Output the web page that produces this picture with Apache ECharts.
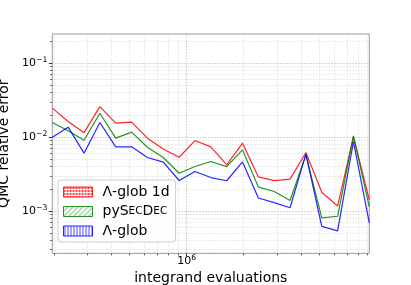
<!DOCTYPE html>
<html><head><meta charset="utf-8">
<script src="https://cdn.jsdelivr.net/npm/echarts@6/dist/echarts.min.js"></script>
<style>html,body{margin:0;padding:0;background:#fff}#c{width:411px;height:285px}</style>
</head><body><div id="c"></div>
<script>
// ---- data ----
const evaluations = [195400, 236900, 287300, 348300, 422300, 512100, 620700, 752300, 912500, 1106000,
  1341000, 1626000, 1971000, 2389000, 2897000, 3512000, 4257000, 5163000, 6258000, 7586000, 9196000];
const lambdaGlob1d = [0.0247, 0.0163, 0.0115, 0.0259, 0.0155, 0.0160, 0.0097, 0.0069, 0.00535, 0.0090,
  0.0074, 0.00422, 0.0083, 0.00290, 0.00258, 0.0027, 0.0062, 0.0018, 0.00117, 0.0102, 0.00142];
const pySecDec = [0.0158, 0.0122, 0.0091, 0.0211, 0.0097, 0.0117, 0.0073, 0.0053, 0.00325, 0.00401,
  0.00468, 0.0040, 0.00673, 0.00211, 0.00184, 0.00139, 0.00576, 0.00081, 0.00085, 0.0104, 0.00114];
const lambdaGlob = [0.0100, 0.01366, 0.00607, 0.0158, 0.0074, 0.0074, 0.0053, 0.00459, 0.00259, 0.00343,
  0.00284, 0.00257, 0.00462, 0.00150, 0.00130, 0.00111, 0.00589, 0.00062, 0.00054, 0.00873, 0.00069];
const seriesNames = ['Λ-glob 1d', 'pySecDec', 'Λ-glob'];
const xMajorTicks = [1e6];
const xMinorTicks = [2e5, 3e5, 4e5, 5e5, 6e5, 7e5, 8e5, 9e5, 2e6, 3e6, 4e6, 5e6, 6e6, 7e6, 8e6, 9e6];
const yMajorTicks = [1e-3, 1e-2, 1e-1];
const yMinorTicks = [3e-4, 4e-4, 5e-4, 6e-4, 7e-4, 8e-4, 9e-4,
  2e-3, 3e-3, 4e-3, 5e-3, 6e-3, 7e-3, 8e-3, 9e-3,
  2e-2, 3e-2, 4e-2, 5e-2, 6e-2, 7e-2, 8e-2, 9e-2, 2e-1];
const xRange = [195400, 9196000];
const yRange = [2.68e-4, 0.249];

// ---- styling ----
const FONT = 'DejaVu Sans';
const colors = ['#ff0000', '#008000', '#0000ff'];

function makePattern(color, kind) {
  const c = document.createElement('canvas');
  const ctx = c.getContext('2d');
  if (kind === 'dots') {
    c.width = 3; c.height = 3;
    ctx.fillStyle = '#ffffff'; ctx.fillRect(0, 0, 3, 3);
    ctx.fillStyle = color; ctx.fillRect(0, 0, 2, 2);
  } else if (kind === 'diag') {
    c.width = 5; c.height = 5;
    ctx.fillStyle = '#ffffff'; ctx.fillRect(0, 0, 5, 5);
    ctx.strokeStyle = color; ctx.lineWidth = 1;
    ctx.beginPath(); ctx.moveTo(-1, 6); ctx.lineTo(6, -1); ctx.stroke();
    ctx.beginPath(); ctx.moveTo(-1, 1); ctx.lineTo(1, -1); ctx.stroke();
    ctx.beginPath(); ctx.moveTo(4, 6); ctx.lineTo(6, 4); ctx.stroke();
  } else {
    c.width = 3; c.height = 3;
    ctx.fillStyle = '#ffffff'; ctx.fillRect(0, 0, 3, 3);
    ctx.fillStyle = color; ctx.fillRect(1, 0, 1, 3);
  }
  return { image: c, repeat: 'repeat' };
}
const patterns = [makePattern('#ff2020', 'dots'), makePattern('#2a9a2a', 'diag'), makePattern('#3030ff', 'vert')];

function powLabel(v) {
  const e = Math.round(Math.log10(v));
  return '{b|10}{s|' + String(e).replace('-', '\u2212') + '}';
}
const labelRich = {
  b: { fontFamily: FONT, fontSize: 11, color: '#000', lineHeight: 14 },
  s: { fontFamily: FONT, fontSize: 7.7, color: '#000', lineHeight: 14, verticalAlign: 'top' }
};
const majorSplit = { show: true, lineStyle: { color: '#b8b8b8', type: [1.5, 1.5], width: 0.8 } };
const minorSplit = { show: true, lineStyle: { color: '#dcdcdc', type: [1.5, 1.5], width: 0.8 } };

const chart = echarts.init(document.getElementById('c'), null, { renderer: 'canvas' });
const dataSets = [lambdaGlob1d, pySecDec, lambdaGlob];

chart.setOption({
  animation: false,
  backgroundColor: '#ffffff',
  grid: { left: 52.3, right: 41.7, top: 34, bottom: 31.7, containLabel: false, outerBoundsMode: 'none',
    show: true, borderColor: '#9a9a9a', borderWidth: 1, backgroundColor: 'transparent' },
  xAxis: [
    {
      type: 'log', logBase: 10, min: xRange[0], max: xRange[1], position: 'bottom',
      name: 'integrand evaluations', nameLocation: 'middle', nameGap: 10,
      nameTextStyle: { fontFamily: FONT, fontSize: 14, color: '#000', verticalAlign: 'top' },
      axisLine: { show: false },
      axisTick: { show: true, length: 3.5, customValues: xMajorTicks, lineStyle: { color: '#333' } },
      axisLabel: { show: true, customValues: xMajorTicks, margin: 1, formatter: powLabel, rich: labelRich },
      splitLine: Object.assign({}, majorSplit),
      minorTick: { show: false }, minorSplitLine: { show: false }
    },
    {
      type: 'log', logBase: 10, min: xRange[0], max: xRange[1], position: 'bottom',
      axisLine: { show: false },
      axisTick: { show: true, length: 2, customValues: xMinorTicks, lineStyle: { color: '#555' } },
      axisLabel: { show: false },
      splitLine: Object.assign({}, minorSplit)
    }
  ],
  yAxis: [
    {
      type: 'log', logBase: 10, min: yRange[0], max: yRange[1], position: 'left',
      name: 'QMC relative error', nameLocation: 'middle', nameGap: 34,
      nameTextStyle: { fontFamily: FONT, fontSize: 14, color: '#000' },
      axisLine: { show: false },
      axisTick: { show: true, length: 3.5, customValues: yMajorTicks, lineStyle: { color: '#333' } },
      axisLabel: { show: true, customValues: yMajorTicks, margin: 5, formatter: powLabel, rich: labelRich },
      splitLine: Object.assign({}, majorSplit),
      minorTick: { show: false }, minorSplitLine: { show: false }
    },
    {
      type: 'log', logBase: 10, min: yRange[0], max: yRange[1], position: 'left',
      axisLine: { show: false },
      axisTick: { show: true, length: 2, customValues: yMinorTicks, lineStyle: { color: '#555' } },
      axisLabel: { show: false },
      splitLine: Object.assign({}, minorSplit)
    }
  ],
  legend: {
    orient: 'vertical', left: 58, top: 180,
    padding: [5, 6, 4, 5], itemGap: 5.5, itemWidth: 29, itemHeight: 10,
    backgroundColor: 'rgba(255,255,255,0.8)', borderColor: '#cccccc', borderWidth: 1, borderRadius: 3,
    data: seriesNames.map((n, i) => ({
      name: n, icon: 'rect',
      itemStyle: { color: patterns[i], borderColor: colors[i], borderWidth: 1, opacity: 0.85 }
    })),
    formatter: function (name) {
      if (name === 'pySecDec') return '{n|pyS}{sc|EC}{n|D}{sc|EC}';
      return '{n|' + name + '}';
    },
    textStyle: {
      padding: [0, 0, 0, 5],
      rich: {
        n: { fontFamily: FONT, fontSize: 14, color: '#000', lineHeight: 16 },
        sc: { fontFamily: FONT, fontSize: 10.5, color: '#000', lineHeight: 16 }
      }
    }
  },
  series: dataSets.map((d, i) => ({
    name: seriesNames[i], type: 'line', xAxisIndex: 0, yAxisIndex: 0,
    data: evaluations.map((x, k) => [x, d[k]]),
    showSymbol: false, symbol: 'none',
    lineStyle: { color: colors[i], width: 1.2, opacity: 0.85 },
    itemStyle: { color: colors[i] },
    z: 3 + i
  }))
});
</script>
</body></html>
